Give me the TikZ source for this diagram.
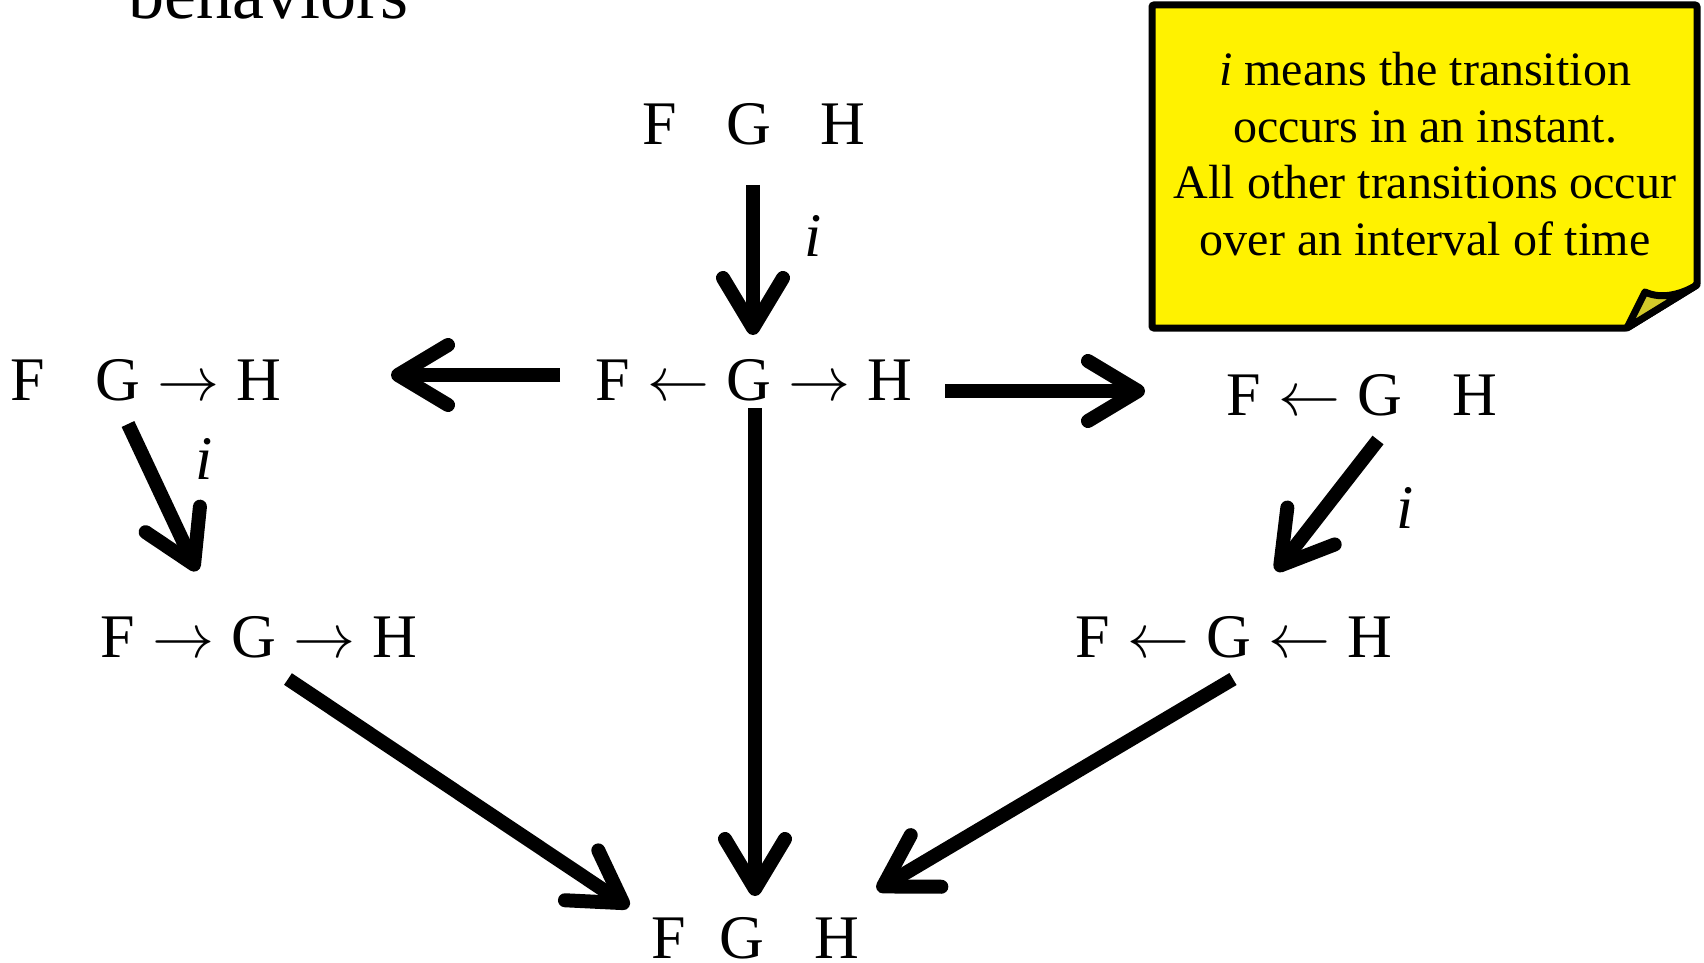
\documentclass[tikz,border=0pt]{standalone}
\usepackage{fix-cm}
\usepackage{fontspec}
\setmainfont{Liberation Serif}
\usetikzlibrary{arrows.meta, calc}

\newcommand{\stgap}{\hspace{0.8em}}
\newcommand{\tl}{${}\leftarrow{}$}
\newcommand{\tr}{${}\rightarrow{}$}

\begin{document}
\begin{tikzpicture}[
    x=0.5pt, y=-0.5pt,
    behav/.style={
        inner sep=0pt,
        anchor=base,
        font=\fontsize{31}{36}\selectfont
    },
    lab/.style={inner sep=0pt, font=\fontsize{31}{36}\selectfont\itshape},
    trans/.style={draw=black, line width=7pt, -{Straight Barb[length=25pt, width=30pt, round]}},
    note/.style={
        inner sep=0pt,
        anchor=north,
        align=center,
        font=\fontsize{24}{28.3}\selectfont
    }
]
    \useasboundingbox (0,0) rectangle (1704,963);

    \node [behav, anchor=base west, font=\fontsize{36}{40}\selectfont] (title) at (128,19) {behaviors};

    % states
    \node [behav] (top) at (754,145) {F\stgap G\stgap H};
    \node [behav] (mid) at (754,400) {F\tl G\tr H};
    \node [behav] (left) at (146,400) {F\stgap G\tr H};
    \node [behav] (right) at (1362,415) {F\tl G\stgap H};
    \node [behav] (lowleft) at (259,657) {F\tr G\tr H};
    \node [behav] (lowright) at (1234,657) {F\tl G\tl H};
    \node [behav] (bottom) at (755,958) {F\hspace{0.55em}G\stgap H};

    % transitions
    \draw [trans] ($(top.base)+(-1,40)$) -- ($(mid.base)+(-1,-65)$)
        node [lab, pos=0.34, xshift=30pt] {i};
    \draw [trans] ($(mid.base)+(-194,-25)$) -- ($(left.base)+(245,-25)$);
    \draw [trans] ($(mid.base)+(191,-9)$) -- ($(right.base)+(-217,-24)$);
    \draw [trans] ($(mid.base)+(1,8)$) -- ($(bottom.base)+(0,-62)$);
    \draw [trans] ($(left.base)+(-18,24)$) -- ($(lowleft.base)+(-62,-86)$)
        node [lab, pos=0.24, xshift=30pt] {i};
    \draw [trans] ($(right.base)+(16,25)$) -- ($(lowright.base)+(42,-86)$)
        node [lab, pos=0.52, xshift=40pt] {i};
    \draw [trans] ($(lowleft.base)+(29,22)$) -- ($(bottom.base)+(-126,-51)$);
    \draw [trans] ($(lowright.base)+(-1,22)$) -- ($(bottom.base)+(122,-68)$);

    % note
    \draw [line width=3.5pt, fill=yellow, rounded corners=1pt]
        (1152,5) -- (1697,5) -- (1697,285) -- (1627,328) -- (1152,328) -- cycle;
    \draw [line width=3.5pt, fill=yellow!80!black, line join=round]
        (1627,328) -- (1645,292) .. controls (1662,300) and (1682,294) .. (1697,285) -- cycle;
    \node [note] (legend) at (1425,52) {\textit{i} means the transition\\ occurs in an instant.\\All other transitions occur\\over an interval of time};
\end{tikzpicture}
\end{document}
